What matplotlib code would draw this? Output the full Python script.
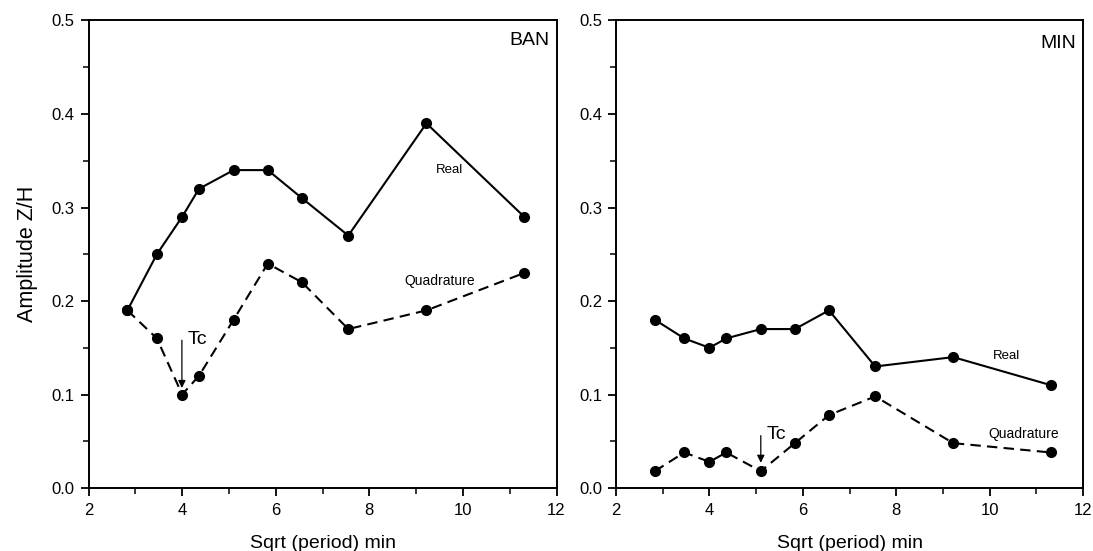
import matplotlib
matplotlib.use("Agg")
import matplotlib.pyplot as plt
from matplotlib.ticker import MultipleLocator

plt.rcParams["font.family"] = ["Liberation Sans", "DejaVu Sans"]

# sqrt(period) in min, same for both stations
sqrt_period = [2.83, 3.46, 4.0, 4.36, 5.10, 5.83, 6.56, 7.55, 9.22, 11.31]

ban_real = [0.19, 0.25, 0.29, 0.32, 0.34, 0.34, 0.31, 0.27, 0.39, 0.29]
ban_quad = [0.19, 0.16, 0.10, 0.12, 0.18, 0.24, 0.22, 0.17, 0.19, 0.23]

min_real = [0.18, 0.16, 0.15, 0.16, 0.17, 0.17, 0.19, 0.13, 0.14, 0.11]
min_quad = [0.018, 0.038, 0.028, 0.038, 0.018, 0.048, 0.078, 0.098, 0.048, 0.038]


def draw_panel(ax, real, quad, station, station_y, real_xy, quad_xy, tc_x, tc_y0, tc_y1):
    ax.plot(sqrt_period, real, "-", color="black", lw=1.5, marker="o", ms=7)
    ax.plot(sqrt_period, quad, color="black", lw=1.5, ls=(0, (5, 3)), marker="o", ms=7)

    ax.set_xlim(2, 12)
    ax.set_ylim(0, 0.5)
    ax.xaxis.set_major_locator(MultipleLocator(2))
    ax.xaxis.set_minor_locator(MultipleLocator(1))
    ax.yaxis.set_major_locator(MultipleLocator(0.1))
    ax.yaxis.set_minor_locator(MultipleLocator(0.05))
    ax.yaxis.set_major_formatter(plt.FuncFormatter(lambda v, p: f"{v:.1f}"))
    ax.tick_params(which="both", direction="out", labelsize=12, top=False, right=False)
    ax.tick_params(which="major", length=6, width=1.3)
    ax.tick_params(axis="y", which="major", pad=4)
    ax.tick_params(axis="x", which="major", pad=5)
    ax.tick_params(which="minor", length=4, width=1.1)
    for s in ax.spines.values():
        s.set_linewidth(1.4)

    ax.set_xlabel("Sqrt (period) min", fontsize=14, labelpad=12)
    ax.text(0.985, station_y, station, transform=ax.transAxes, ha="right", va="center", fontsize=14)
    ax.text(real_xy[0], real_xy[1], "Real", fontsize=9.5, ha="center", va="center")
    ax.text(quad_xy[0], quad_xy[1], "Quadrature", fontsize=10, ha="center", va="center")

    ax.annotate("", xy=(tc_x, tc_y1), xytext=(tc_x, tc_y0),
                arrowprops=dict(arrowstyle="-|>", color="black", lw=0.9, mutation_scale=11))
    ax.text(tc_x + 0.12, tc_y0 - 0.002, "Tc", fontsize=14, ha="left", va="center")


fig = plt.figure(figsize=(10.93, 5.51), dpi=100)
ax1 = fig.add_axes([0.081, 0.1143, 0.4282, 0.8485])
ax2 = fig.add_axes([0.5636, 0.1143, 0.4273, 0.8485])

draw_panel(ax1, ban_real, ban_quad, "BAN", 0.958, (9.71, 0.340), (9.5, 0.221), 3.995, 0.161, 0.104)
draw_panel(ax2, min_real, min_quad, "MIN", 0.95, (10.37, 0.141), (10.73, 0.0575), 5.10, 0.059, 0.024)

ax1.set_ylabel("Amplitude Z/H", fontsize=15.5, labelpad=10)

fig.savefig("out.png", dpi=100)
